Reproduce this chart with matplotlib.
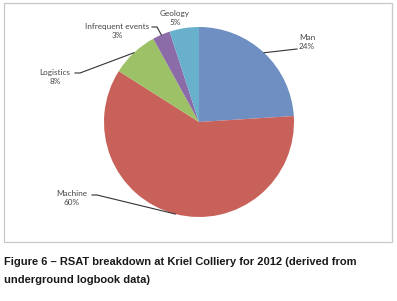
import numpy as np
import matplotlib
matplotlib.use("Agg")
import matplotlib.pyplot as plt
from matplotlib.patches import Rectangle

categories = ["Man", "Machine", "Logistics", "Infrequent events", "Geology"]
values = [24, 60, 8, 3, 5]
colors = ["#6F8FC2", "#C8615A", "#9DC166", "#8B6CA8", "#68B0CC"]

W, H = 397, 301
fig = plt.figure(figsize=(W / 100, H / 100), dpi=100)
ax = fig.add_axes([0, 0, 1, 1])

# pie in pixel-like coordinates (y up)
cx, cy, r = 199, H - 122, 95
wedges, _ = ax.pie(values, colors=colors, startangle=90, counterclock=False,
                   center=(cx, cy), radius=r, wedgeprops=dict(linewidth=0))
ax.set_xlim(0, W)
ax.set_ylim(0, H)
ax.set_aspect("equal")
ax.axis("off")

# chart frame
ax.add_patch(Rectangle((4, H - 242), 388, 239, fill=False, edgecolor="#C8C8C8", lw=0.9))

# label positions (screen px) and leader-line elbows
lab = {
    "Man": (307, 42, None),
    "Machine": (72, 198, (92, 195)),
    "Logistics": (55, 77, (75, 73)),
    "Infrequent events": (117, 31, (152, 27)),
    "Geology": (175, 18, None),
}
txtcol = "#454545"
for w, name, v in zip(wedges, categories, values):
    tx, ty, elbow = lab[name]
    ax.text(tx, H - ty, f"{name}\n{v}%", ha="center", va="center", fontsize=5.9,
            family="Lato", color=txtcol, linespacing=1.25)
    mid = np.deg2rad((w.theta1 + w.theta2) / 2)
    ex, ey = cx + r * np.cos(mid), cy + r * np.sin(mid)
    if name == "Man":
        ax.plot([ex, 297], [ey, H - 49], color="#333333", lw=0.8)
    elif elbow is not None:
        bx, by = elbow
        ax.plot([bx, bx + 5, ex], [H - by, H - by, ey], color="#333333", lw=0.8)

fig.text(4 / W, 1 - 262 / H, "Figure 6 \u2013 RSAT breakdown at Kriel Colliery for 2012 (derived from",
         fontsize=8.0, fontweight="bold", family="Liberation Sans", color="#1a1a1a", va="center")
fig.text(4 / W, 1 - 280 / H, "underground logbook data)",
         fontsize=8.0, fontweight="bold", family="Liberation Sans", color="#1a1a1a", va="center")

fig.savefig("out.png", dpi=100)
